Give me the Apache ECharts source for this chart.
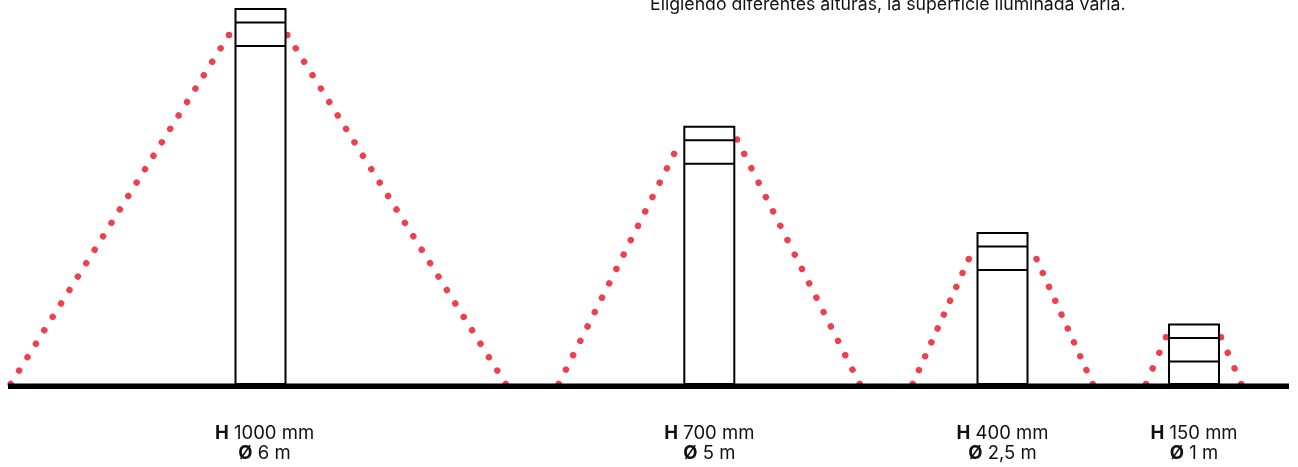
<!DOCTYPE html>
<html>
<head>
<meta charset="utf-8">
<script src="https://cdn.jsdelivr.net/npm/echarts@6/dist/echarts.min.js"></script>
<style>
  html, body { margin: 0; padding: 0; background: #fff; }
  #chart { width: 1298px; height: 467px; }
</style>
</head>
<body>
<div id="chart"></div>
<script>
// bolardos: posición, altura dibujada (mm) y rótulos
const bollardX = [260.5, 709.3, 1002.5, 1194];
const bollardHeight = [1000, 686, 403, 159];
const heightLabels = ['1000', '700', '400', '150'];
const diameterLabels = ['6', '5', '2,5', '1'];

// haz de luz: pie en el suelo y punto alto junto al bolardo
const lightBaseLeft = [10.7, 558.7, 912.7, 1146];
const lightBaseRight = [505.7, 859.7, 1092.7, 1241.3];
const lightTopLeft = [229, 681.3, 975, 1166];
const lightTopRight = [287.3, 737, 1030.3, 1221];
const lightTopHeight = [931, 652, 370, 125];

const groundFrom = 8;
const groundTo = 1289;

const BOLLARD_W = 50;
const RED = '#ee3f4d';
const FONT = 'Inter, "Noto Sans", sans-serif';

const chart = echarts.init(document.getElementById('chart'));

// un segmento por rayo
const rays = [];
bollardX.forEach((x, i) => {
  rays.push([lightBaseLeft[i], 0, lightTopLeft[i], lightTopHeight[i]]);
  rays.push([lightBaseRight[i], 0, lightTopRight[i], lightTopHeight[i]]);
});

chart.setOption({
  animation: false,
  grid: { left: 0, right: 0, top: 9, bottom: 83 },
  xAxis: { type: 'value', min: 0, max: 1298, show: false },
  yAxis: { type: 'value', min: 0, max: 1000, show: false },
  graphic: [
    {
      type: 'text',
      left: 650,
      top: -4,
      style: {
        text: 'Eligiendo diferentes alturas, la superficie iluminada varía.',
        font: '17.7px ' + FONT,
        fill: '#111'
      }
    }
  ],
  series: [
    {
      name: 'luz',
      type: 'custom',
      z: 1,
      data: rays,
      renderItem: (params, api) => {
        const a = api.coord([api.value(0), api.value(1)]);
        const b = api.coord([api.value(2), api.value(3)]);
        const len = Math.hypot(b[0] - a[0], b[1] - a[1]);
        const n = Math.max(1, Math.round(len / 16));
        return {
          type: 'line',
          shape: { x1: a[0], y1: a[1], x2: b[0], y2: b[1] },
          style: {
            stroke: RED,
            lineWidth: 6.5,
            lineCap: 'round',
            lineDash: [0.001, len / n - 0.001]
          }
        };
      }
    },
    {
      name: 'suelo',
      type: 'custom',
      z: 2,
      data: [[groundFrom, groundTo]],
      renderItem: (params, api) => {
        const a = api.coord([api.value(0), 0]);
        const b = api.coord([api.value(1), 0]);
        return {
          type: 'rect',
          shape: { x: a[0], y: a[1] - 0.5, width: b[0] - a[0], height: 5.5 },
          style: { fill: '#000' }
        };
      }
    },
    {
      name: 'bolardo',
      type: 'custom',
      z: 3,
      data: bollardX.map((x, i) => [x, bollardHeight[i]]),
      renderItem: (params, api) => {
        const top = api.coord([api.value(0) - BOLLARD_W / 2, api.value(1)]);
        const bottom = api.coord([api.value(0) + BOLLARD_W / 2, 0]);
        const w = bottom[0] - top[0];
        const h = bottom[1] - top[1];
        const line = { stroke: '#000', lineWidth: 2 };
        return {
          type: 'group',
          children: [
            {
              type: 'rect',
              shape: { x: top[0], y: top[1], width: w, height: h },
              style: { fill: '#fff', stroke: '#000', lineWidth: 2 }
            },
            {
              type: 'line',
              shape: { x1: top[0], y1: top[1] + 13.5, x2: top[0] + w, y2: top[1] + 13.5 },
              style: line
            },
            {
              type: 'line',
              shape: { x1: top[0], y1: top[1] + 37, x2: top[0] + w, y2: top[1] + 37 },
              style: line
            }
          ]
        };
      }
    },
    {
      name: 'rotulos',
      type: 'custom',
      z: 4,
      data: bollardX.map((x, i) => [x, i]),
      renderItem: (params, api) => {
        const i = api.value(1);
        const p = api.coord([api.value(0), 0]);
        return {
          type: 'text',
          x: p[0] + (i === 0 ? 4 : 0),
          y: p[1] + 39,
          style: {
            text: '{b|H} ' + heightLabels[i] + ' mm\n{b|Ø} ' + diameterLabels[i] + ' m',
            align: 'center',
            verticalAlign: 'top',
            font: '18.5px ' + FONT,
            lineHeight: 20,
            fill: '#111',
            rich: {
              b: { fontWeight: 'bold', fontSize: 18.5, fontFamily: 'Inter, "Noto Sans", sans-serif', lineHeight: 20 }
            }
          }
        };
      }
    }
  ]
});
</script>
</body>
</html>
